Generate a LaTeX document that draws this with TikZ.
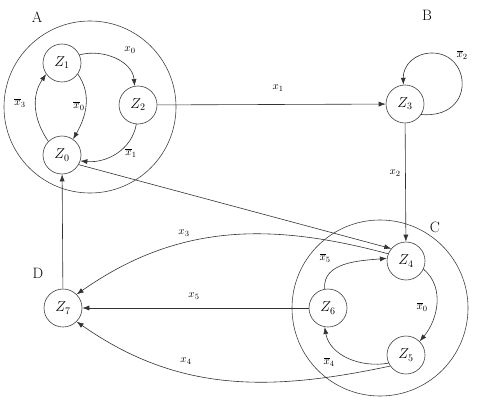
\documentclass[tikz,border=0pt]{standalone}
\usetikzlibrary{arrows.meta}
\begin{document}
\begin{tikzpicture}[x=1pt,y=1pt,
  st/.style={circle,draw=black!75,line width=0.6pt,minimum size=38pt,inner sep=0pt,font=\fontsize{14}{14}\selectfont},
  ed/.style={draw=black!80,line width=0.6pt,-{Latex[length=7pt,width=5pt]}},
  lbl/.style={font=\fontsize{11}{11}\selectfont,inner sep=0pt},
  grp/.style={font=\fontsize{15}{15}\selectfont,inner sep=0pt},
  ring/.style={draw=black!75,line width=0.6pt}]
\useasboundingbox (0,0) rectangle (478,-406);
% group rings
\draw[ring] (90,-107) circle (86pt);
\draw[ring] (380,-308) circle (88pt);
% group labels
\node[grp] (gA) at (37,-17) {A};
\node[grp] (gB) at (427,-15) {B};
\node[grp] (gC) at (435,-227) {C};
\node[grp] (gD) at (38,-273) {D};
% states
\node[st] (Z1) at (62,-63) {$Z_1$};
\node[st] (Z2) at (138,-105) {$Z_2$};
\node[st] (Z0) at (62,-155) {$Z_0$};
\node[st] (Z3) at (405,-104) {$Z_3$};
\node[st] (Z4) at (406,-261) {$Z_4$};
\node[st] (Z6) at (328,-308) {$Z_6$};
\node[st] (Z5) at (406,-355) {$Z_5$};
\node[st] (Z7) at (63,-308) {$Z_7$};
% edges
\draw[ed] (Z1.25) to[out=15,in=95] (Z2.100);
\draw[ed] (Z1.-35) to[out=-55,in=60] (Z0.55);
\draw[ed] (Z0.135) to[out=125,in=235] (Z1.215);
\draw[ed] (Z2.-95) to[out=-100,in=-5] (Z0.-18);
\draw[ed] (Z2) -- (Z3);
\draw[ed] (Z3.-33) .. controls (476,-119) and (472,-53) .. (432,-53) .. controls (415,-53) and (403,-65) .. (Z3.95);
\draw[ed] (Z3) -- (Z4);
\draw[ed] (Z0.-30) -- (Z4.140);
\draw[ed] (Z4.158) to[out=165,in=35] (Z7.45);
\draw[ed] (Z6) -- (Z7);
\draw[ed] (Z5.215) to[out=192,in=-35] (Z7.-45);
\draw[ed] (Z4.-25) to[out=-40,in=50] (Z5.45);
\draw[ed] (Z5.205) to[out=190,in=-80] (Z6.-100);
\draw[ed] (Z6.100) to[out=95,in=185] (Z4.172);
\draw[ed] (Z7) -- (Z0);
% labels
\node[lbl] (l1) at (130,-50) {$x_0$};
\node[lbl] (l2) at (79,-106) {$\overline{x}_0$};
\node[lbl] (l3) at (20,-103) {$\overline{x}_3$};
\node[lbl] (l4) at (131,-153) {$\overline{x}_1$};
\node[lbl] (l5) at (278,-88) {$x_1$};
\node[lbl] (l6) at (462,-55) {$\overline{x}_2$};
\node[lbl] (l7) at (395,-173) {$x_2$};
\node[lbl] (l8) at (184,-233) {$x_3$};
\node[lbl] (l9) at (194,-296) {$x_5$};
\node[lbl] (l10) at (186,-361) {$x_4$};
\node[lbl] (l11) at (325,-258) {$\overline{x}_5$};
\node[lbl] (l12) at (329,-362) {$\overline{x}_4$};
\node[lbl] (l13) at (422,-307) {$\overline{x}_0$};
\end{tikzpicture}
\end{document}
